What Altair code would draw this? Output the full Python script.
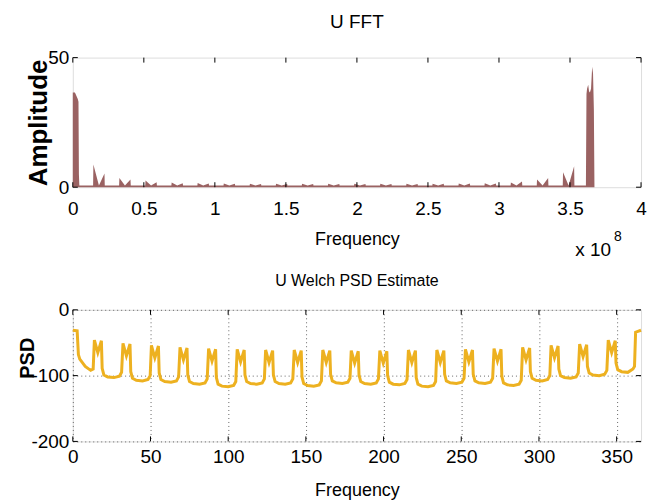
import altair as alt
import pandas as pd

FONT = "Liberation Sans, Arial, Helvetica, sans-serif"

# ---------------- data ----------------
fft_freq = [0, 0.015, 0.035, 0.040, 0.043, 0.046,
            0.143, 0.145, 0.184, 0.223, 0.225,
            0.326, 0.328, 0.367, 0.406, 0.408,
            0.510, 0.512, 0.551, 0.590, 0.592,
            0.694, 0.696, 0.735, 0.774, 0.776,
            0.877, 0.879, 0.918, 0.957, 0.959,
            1.061, 1.063, 1.102, 1.141, 1.143,
            1.245, 1.247, 1.286, 1.325, 1.327,
            1.429, 1.431, 1.470, 1.509, 1.511,
            1.612, 1.614, 1.653, 1.692, 1.694,
            1.796, 1.798, 1.837, 1.876, 1.878,
            1.980, 1.982, 2.021, 2.060, 2.062,
            2.163, 2.165, 2.204, 2.243, 2.245,
            2.347, 2.349, 2.388, 2.427, 2.429,
            2.531, 2.533, 2.572, 2.611, 2.613,
            2.715, 2.717, 2.756, 2.795, 2.797,
            2.898, 2.900, 2.939, 2.978, 2.980,
            3.082, 3.084, 3.123, 3.162, 3.164,
            3.266, 3.268, 3.307, 3.346, 3.348,
            3.449, 3.451, 3.490, 3.529, 3.531,
            3.612, 3.616, 3.620, 3.628, 3.634, 3.640, 3.648, 3.656, 3.662, 3.668, 3.672]
fft_amp = [36.5, 36.5, 34, 33, 5, 0.7,
           0.7, 8.8, 0.7, 5.3, 0.7,
           0.7, 3.6, 0.7, 3.0, 0.7,
           0.7, 2.6, 0.7, 1.9, 0.7,
           0.7, 1.8, 0.7, 1.5, 0.7,
           0.7, 1.6, 0.7, 1.4, 0.7,
           0.7, 1.4, 0.7, 1.3, 0.7,
           0.7, 1.3, 0.7, 1.2, 0.7,
           0.7, 1.3, 0.7, 1.2, 0.7,
           0.7, 1.3, 0.7, 1.2, 0.7,
           0.7, 1.3, 0.7, 1.2, 0.7,
           0.7, 1.3, 0.7, 1.2, 0.7,
           0.7, 1.3, 0.7, 1.2, 0.7,
           0.7, 1.3, 0.7, 1.2, 0.7,
           0.7, 1.3, 0.7, 1.3, 0.7,
           0.7, 1.4, 0.7, 1.4, 0.7,
           0.7, 1.5, 0.7, 1.4, 0.7,
           0.7, 1.8, 0.7, 2.2, 0.7,
           0.7, 3.0, 0.7, 3.6, 0.7,
           0.7, 5.8, 0.7, 8.1, 0.7,
           0.7, 36, 38, 39.5, 37, 36.5, 38, 46.5, 44, 30, 0.7]

psd_freq = [0, 2.8, 3.6, 4.5, 8.0, 11.5, 13.1,
            13.9, 16.1, 18.4, 18.9, 20.0, 22.5, 26.5, 30.0, 31.4,
            32.3, 34.5, 36.8, 37.3, 38.4, 40.9, 44.9, 48.4, 49.8,
            50.6, 52.8, 55.1, 55.6, 56.7, 59.2, 63.2, 66.7, 68.1,
            69.0, 71.2, 73.5, 74.0, 75.1, 77.6, 81.6, 85.1, 86.5,
            87.4, 89.6, 91.9, 92.4, 93.5, 96.0, 100.0, 103.5, 104.9,
            105.8, 108.0, 110.3, 110.8, 111.9, 114.4, 118.4, 121.9, 123.3,
            124.1, 126.3, 128.6, 129.1, 130.2, 132.7, 136.7, 140.2, 141.6,
            142.5, 144.7, 147.0, 147.5, 148.6, 151.1, 155.1, 158.6, 160.0,
            160.9, 163.1, 165.4, 165.9, 167.0, 169.5, 173.5, 177.0, 178.4,
            179.2, 181.4, 183.7, 184.2, 185.3, 187.8, 191.8, 195.3, 196.7,
            197.6, 199.8, 202.1, 202.6, 203.7, 206.2, 210.2, 213.7, 215.1,
            216.0, 218.2, 220.5, 221.0, 222.1, 224.6, 228.6, 232.1, 233.5,
            234.3, 236.5, 238.8, 239.3, 240.4, 242.9, 246.9, 250.4, 251.8,
            252.7, 254.9, 257.2, 257.7, 258.8, 261.3, 265.3, 268.8, 270.2,
            271.1, 273.3, 275.6, 276.1, 277.2, 279.7, 283.7, 287.2, 288.6,
            289.5, 291.7, 294.0, 294.5, 295.6, 298.1, 302.1, 305.6, 307.0,
            307.8, 310.0, 312.3, 312.8, 313.9, 316.4, 320.4, 323.9, 325.3,
            326.2, 328.4, 330.7, 331.2, 332.3, 334.8, 338.8, 342.3, 343.7,
            344.6, 346.8, 349.1, 349.6, 350.7, 353.2, 357.2, 360.5, 361.5, 362.2, 365.7]
psd_db = [-31, -32, -68, -75, -86, -92, -90,
          -46, -65, -47, -89, -99, -102, -103, -101, -95,
          -51, -70, -52, -94, -104, -107, -108, -106, -100,
          -54, -73, -55, -96, -106, -109, -110, -108, -102,
          -57, -76, -58, -99, -109, -112, -113, -111, -105,
          -59, -78, -60, -103, -113, -116, -117, -115, -109,
          -60, -79, -61, -99, -109, -112, -113, -111, -105,
          -61, -80, -62, -99, -109, -112, -113, -111, -105,
          -61, -80, -62, -102, -112, -115, -116, -114, -108,
          -61, -80, -62, -98, -108, -111, -112, -110, -104,
          -62, -81, -63, -99, -109, -112, -113, -111, -105,
          -62, -81, -63, -100, -110, -113, -114, -112, -106,
          -61, -80, -62, -103, -113, -116, -117, -115, -109,
          -61, -80, -62, -98, -108, -111, -112, -110, -104,
          -60, -79, -61, -98, -108, -111, -112, -110, -104,
          -59, -78, -60, -101, -111, -114, -115, -113, -107,
          -57, -76, -58, -94, -104, -107, -108, -106, -100,
          -54, -73, -55, -90, -100, -103, -104, -102, -96,
          -52, -71, -53, -86, -96, -99, -100, -98, -92,
          -46, -65, -47, -81, -91, -94, -95, -90, -86, -34, -31]

fft_xticks = [0, 0.5, 1, 1.5, 2, 2.5, 3, 3.5, 4]
fft_yticks = [0, 50]
psd_xticks = [0, 50, 100, 150, 200, 250, 300, 350]
psd_yticks = [-200, -100, 0]
exponent_text = ["x 10", "8"]

# ---------------- layout ----------------
W = 570
H1 = 130
H2 = 132
TICK = 5
LABEL_FS = 19

def axis_common(**kw):
    base = dict(ticks=False, domain=False, labelFont=FONT, labelFontSize=LABEL_FS,
                labelColor="black", titleFont=FONT, titleColor="black",
                labelFlush=False, labelOverlap=False,
                labelExpr="toString(datum.value)")
    base.update(kw)
    return alt.Axis(**base)

# ---------- top panel: FFT ----------
fx = alt.Scale(domain=[0, 4], nice=False, zero=False)
fy = alt.Scale(domain=[0, 50], nice=False)
fft_df = pd.DataFrame({"freq": fft_freq, "amp": fft_amp})

area = alt.Chart(fft_df).mark_area(color="#9a6262", interpolate="linear").encode(
    x=alt.X("freq:Q", scale=fx, axis=axis_common(
        values=fft_xticks, grid=False, labelPadding=12, title="Frequency",
        titleFontSize=18, titleFontWeight="normal", titleX=W / 2, titleY=52,
        titleBaseline="middle", titleAlign="center")),
    y=alt.Y("amp:Q", scale=fy, axis=axis_common(
        values=fft_yticks, grid=False, labelPadding=4, title="Amplitude",
        titleFontSize=26, titleFontWeight="bold", titleX=-34, titleY=H1 / 2,
        titleBaseline="middle", titleAlign="center")),
)

fxt = pd.DataFrame({"freq": fft_xticks})
fyt = pd.DataFrame({"amp": fft_yticks})
ft_b = alt.Chart(fxt).mark_rule(color="black").encode(
    x=alt.X("freq:Q", scale=fx), y=alt.value(H1), y2=alt.value(H1 - TICK))
ft_t = alt.Chart(fxt).mark_rule(color="black").encode(
    x=alt.X("freq:Q", scale=fx), y=alt.value(0), y2=alt.value(TICK))
ft_l = alt.Chart(fyt).mark_rule(color="black").encode(
    y=alt.Y("amp:Q", scale=fy), x=alt.value(0), x2=alt.value(TICK))
ft_r = alt.Chart(fyt).mark_rule(color="black").encode(
    y=alt.Y("amp:Q", scale=fy), x=alt.value(W), x2=alt.value(W - TICK))

exp_df = pd.DataFrame({"t": exponent_text})
exp_base = alt.Chart(exp_df).transform_filter(alt.datum.t == exponent_text[0]).mark_text(
    font=FONT, fontSize=19, color="black", align="left", baseline="middle").encode(
    text="t:N", x=alt.value(504), y=alt.value(193))
exp_sup = alt.Chart(exp_df).transform_filter(alt.datum.t == exponent_text[1]).mark_text(
    font=FONT, fontSize=14, color="black", align="left", baseline="middle").encode(
    text="t:N", x=alt.value(543), y=alt.value(180))

top = alt.layer(area, ft_b, ft_t, ft_l, ft_r, exp_base, exp_sup).properties(
    width=W, height=H1,
    title=alt.TitleParams("U FFT", font=FONT, fontSize=19, fontWeight="normal",
                          color="black", offset=17))

# ---------- bottom panel: Welch PSD ----------
px = alt.Scale(domain=[0, 365.7], nice=False, zero=False)
py = alt.Scale(domain=[-200, 0], nice=False)
psd_df = pd.DataFrame({"f": psd_freq, "p": psd_db})

grid_kw = dict(grid=True, gridDash=[1, 3], gridColor="#666666", gridWidth=1)
line = alt.Chart(psd_df).mark_line(color="#EDB120", strokeWidth=3).encode(
    x=alt.X("f:Q", scale=px, axis=axis_common(
        values=psd_xticks, labelPadding=6, title="Frequency",
        titleFontSize=18, titleFontWeight="normal", titleX=W / 2, titleY=49,
        titleBaseline="middle", titleAlign="center", **grid_kw)),
    y=alt.Y("p:Q", scale=py, axis=axis_common(
        values=psd_yticks, labelPadding=4, title="PSD",
        titleFontSize=20, titleFontWeight="bold", titleX=-45, titleY=48,
        titleBaseline="middle", titleAlign="center", **grid_kw)),
)

pxt = pd.DataFrame({"f": psd_xticks})
pyt = pd.DataFrame({"p": psd_yticks})
pt_b = alt.Chart(pxt).mark_rule(color="black").encode(
    x=alt.X("f:Q", scale=px), y=alt.value(H2), y2=alt.value(H2 - TICK))
pt_t = alt.Chart(pxt).mark_rule(color="black").encode(
    x=alt.X("f:Q", scale=px), y=alt.value(0), y2=alt.value(TICK))
pt_l = alt.Chart(pyt).mark_rule(color="black").encode(
    y=alt.Y("p:Q", scale=py), x=alt.value(0), x2=alt.value(TICK))
pt_r = alt.Chart(pyt).mark_rule(color="black").encode(
    y=alt.Y("p:Q", scale=py), x=alt.value(W), x2=alt.value(W - TICK))

bottom = alt.layer(line, pt_b, pt_t, pt_l, pt_r).properties(
    width=W, height=H2,
    title=alt.TitleParams("U Welch PSD Estimate", font=FONT, fontSize=16,
                          fontWeight="normal", color="black", offset=12))

chart = alt.vconcat(top, bottom, spacing=123, bounds="flush").properties(
    padding={"left": 9, "top": 3, "right": 5, "bottom": 0}
).configure_view(stroke="black", strokeWidth=1).configure(background="white")

chart.save("out.html", embed_options={"renderer": "svg", "actions": False})
